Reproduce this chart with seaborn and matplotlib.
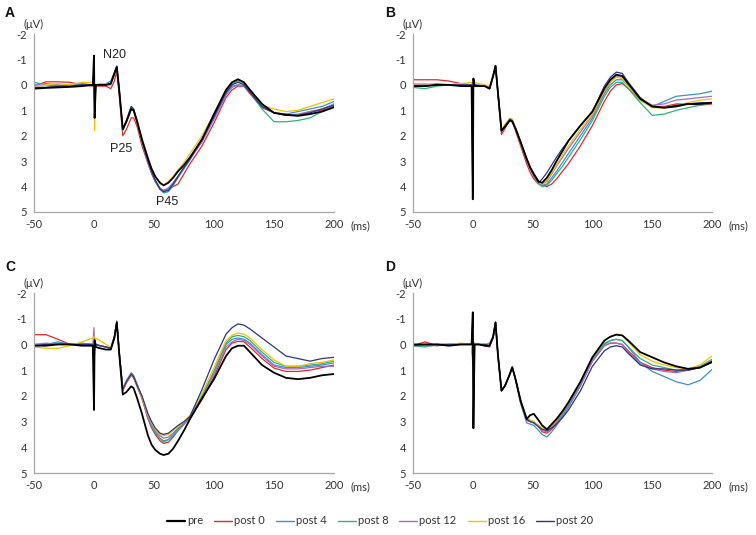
import matplotlib
matplotlib.use("Agg")
import matplotlib.pyplot as plt
from matplotlib.lines import Line2D
import seaborn as sns
import pandas as pd

# ---------------- data (values in microvolts) ----------------
T = [-50, -40, -30, -20, -10, -1, 0, 0.5, 1.5,
     5, 10, 14, 17, 19, 21, 24, 27, 31, 33, 36,
     40, 45, 48, 51, 55, 58, 62, 66, 70, 75, 80, 90, 100, 110, 115, 120, 125, 130,
     140, 150, 160, 170, 180, 190, 200]

series_names = ["pre", "post 0", "post 4", "post 8", "post 12", "post 16", "post 20"]
series_colors = ["#000000", "#e8262a", "#3d8fd1", "#2db37a", "#9a6fc7", "#f2c200", "#2e3580"]
panel_labels = ["A", "B", "C", "D"]

# Panel A
A_pre = [0.15, 0.12, 0.10, 0.08, 0.05, 0.00, -1.15, 1.30, 0.00,
         0.00, 0.00, -0.05, -0.45, -0.70, 0.20, 1.75, 1.45, 0.95, 1.00, 1.45,
         2.15, 2.90, 3.30, 3.60, 3.85, 3.95, 3.85, 3.65, 3.40, 3.15, 2.85, 2.15, 1.15, 0.20, -0.10, -0.22, -0.10, 0.20,
         0.75, 1.10, 1.18, 1.22, 1.15, 1.05, 0.88]
A_post0 = [0.05, -0.12, -0.12, -0.10, 0.00, 0.05, -0.20, 0.40, 0.05,
           0.05, 0.05, 0.15, -0.15, -0.55, 0.40, 2.00, 1.75, 1.30, 1.30, 1.65,
           2.40, 3.10, 3.50, 3.80, 4.10, 4.15, 4.10, 4.00, 3.90, 3.50, 3.10, 2.40, 1.50, 0.50, 0.20, 0.05, 0.05, 0.35,
           0.90, 1.10, 1.15, 1.20, 1.05, 1.00, 0.85]
A_post4 = [0.10, 0.10, 0.05, 0.00, -0.05, 0.00, -0.40, 0.80, 0.00,
           0.00, -0.05, -0.15, -0.50, -0.75, 0.20, 1.75, 1.40, 0.85, 0.95, 1.45,
           2.20, 3.00, 3.40, 3.75, 4.10, 4.25, 4.20, 3.95, 3.65, 3.30, 2.95, 2.20, 1.30, 0.35, 0.05, 0.00, 0.05, 0.30,
           0.85, 1.10, 1.15, 1.05, 0.95, 0.85, 0.65]
A_post8 = [-0.10, 0.00, 0.05, 0.05, 0.00, 0.00, -0.30, 0.60, 0.00,
           0.00, 0.00, -0.05, -0.45, -0.70, 0.25, 1.80, 1.45, 0.95, 1.00, 1.50,
           2.25, 3.05, 3.45, 3.80, 4.10, 4.20, 4.10, 3.85, 3.60, 3.25, 2.90, 2.10, 1.20, 0.25, -0.05, -0.15, -0.05, 0.30,
           0.95, 1.45, 1.45, 1.40, 1.30, 1.05, 0.85]
A_post12 = [0.00, -0.05, 0.00, 0.05, 0.00, 0.00, -0.30, 0.60, 0.00,
            0.00, 0.00, 0.00, -0.40, -0.70, 0.20, 1.75, 1.45, 0.95, 1.00, 1.50,
            2.25, 3.05, 3.45, 3.75, 4.05, 4.15, 4.05, 3.85, 3.60, 3.25, 2.90, 2.25, 1.35, 0.40, 0.10, 0.00, 0.05, 0.30,
            0.85, 1.10, 1.20, 1.15, 1.05, 0.95, 0.75]
A_post16 = [0.05, 0.00, -0.05, 0.00, -0.10, -0.10, -0.40, 1.80, 0.00,
            -0.05, -0.05, -0.05, -0.40, -0.70, 0.20, 1.75, 1.40, 0.90, 0.95, 1.40,
            2.10, 2.90, 3.30, 3.60, 3.90, 3.95, 3.80, 3.60, 3.35, 3.05, 2.70, 2.00, 1.15, 0.20, -0.10, -0.20, -0.10, 0.20,
            0.80, 0.95, 1.05, 1.00, 0.85, 0.70, 0.55]
A_post20 = [0.10, 0.10, 0.05, 0.05, 0.00, 0.00, -0.50, 1.00, 0.00,
            0.00, 0.00, -0.05, -0.45, -0.72, 0.20, 1.75, 1.40, 0.85, 0.95, 1.45,
            2.20, 3.00, 3.40, 3.75, 4.10, 4.20, 4.15, 3.90, 3.60, 3.25, 2.90, 2.15, 1.25, 0.30, 0.00, -0.10, 0.00, 0.30,
            0.85, 1.10, 1.20, 1.20, 1.10, 0.95, 0.80]

# Panel B
B_pre = [0.05, 0.05, 0.00, 0.00, 0.05, 0.05, 4.50, -0.25, 0.05,
         0.05, 0.05, 0.15, -0.35, -0.75, 0.30, 1.80, 1.65, 1.40, 1.45, 1.75,
         2.25, 2.90, 3.25, 3.50, 3.80, 3.85, 3.65, 3.35, 3.00, 2.60, 2.20, 1.60, 1.05, 0.15, -0.20, -0.40, -0.35, -0.05,
         0.55, 0.85, 0.90, 0.85, 0.75, 0.75, 0.70]
B_post0 = [-0.20, -0.20, -0.20, -0.15, -0.05, 0.00, 1.00, -0.20, 0.00,
           0.05, 0.05, 0.10, -0.35, -0.72, 0.35, 1.95, 1.70, 1.35, 1.40, 1.85,
           2.40, 3.10, 3.45, 3.70, 3.90, 3.95, 4.00, 3.90, 3.70, 3.40, 3.10, 2.40, 1.60, 0.65, 0.25, 0.00, -0.05, 0.15,
           0.60, 0.85, 0.85, 0.75, 0.75, 0.80, 0.75]
B_post4 = [0.05, 0.00, 0.00, 0.00, 0.00, 0.00, 3.00, -0.20, 0.00,
           0.00, 0.05, 0.15, -0.35, -0.75, 0.30, 1.80, 1.60, 1.35, 1.40, 1.75,
           2.30, 2.95, 3.30, 3.55, 3.85, 3.95, 3.90, 3.65, 3.40, 3.05, 2.70, 2.00, 1.30, 0.35, 0.00, -0.20, -0.20, 0.05,
           0.60, 0.85, 0.65, 0.45, 0.40, 0.35, 0.25]
B_post8 = [0.10, 0.15, 0.05, 0.00, 0.00, 0.00, 1.50, -0.20, 0.00,
           0.05, 0.05, 0.10, -0.35, -0.75, 0.30, 1.85, 1.60, 1.35, 1.40, 1.75,
           2.30, 2.95, 3.30, 3.60, 3.90, 4.00, 3.95, 3.75, 3.50, 3.20, 2.85, 2.15, 1.40, 0.45, 0.10, -0.10, -0.10, 0.15,
           0.70, 1.20, 1.15, 1.00, 0.90, 0.80, 0.70]
B_post12 = [0.00, 0.00, -0.05, 0.00, 0.00, 0.00, 1.50, -0.20, 0.00,
            0.05, 0.05, 0.10, -0.35, -0.75, 0.30, 1.80, 1.60, 1.35, 1.40, 1.75,
            2.30, 2.95, 3.30, 3.55, 3.85, 3.90, 3.80, 3.50, 3.20, 2.85, 2.50, 1.85, 1.20, 0.30, -0.10, -0.35, -0.30, 0.00,
            0.55, 0.80, 0.75, 0.60, 0.55, 0.50, 0.45]
B_post16 = [-0.05, -0.05, 0.00, 0.00, -0.05, -0.10, 1.00, -0.25, -0.10,
            -0.05, 0.00, 0.05, -0.40, -0.75, 0.25, 1.75, 1.55, 1.30, 1.35, 1.70,
            2.25, 2.90, 3.25, 3.55, 3.85, 3.90, 3.75, 3.45, 3.15, 2.75, 2.40, 1.75, 1.15, 0.25, -0.10, -0.30, -0.25, 0.05,
            0.60, 0.90, 0.90, 0.80, 0.70, 0.60, 0.55]
B_post20 = [0.05, 0.05, 0.00, 0.00, 0.00, 0.00, 4.40, -0.25, 0.00,
            0.05, 0.05, 0.15, -0.35, -0.75, 0.30, 1.80, 1.60, 1.35, 1.40, 1.75,
            2.25, 2.90, 3.25, 3.55, 3.85, 3.70, 3.45, 3.15, 2.85, 2.50, 2.20, 1.60, 1.05, 0.05, -0.30, -0.50, -0.45, -0.10,
            0.50, 0.85, 0.90, 0.80, 0.75, 0.70, 0.70]

# Panel C
C_pre = [0.05, 0.05, 0.00, 0.00, 0.05, 0.05, 2.55, -0.15, 0.10,
         0.15, 0.20, 0.20, -0.25, -0.85, 0.35, 1.95, 1.85, 1.63, 1.70, 2.10,
         2.70, 3.55, 3.90, 4.10, 4.25, 4.30, 4.25, 4.05, 3.75, 3.35, 2.90, 2.10, 1.35, 0.45, 0.15, 0.05, 0.05, 0.30,
         0.80, 1.10, 1.30, 1.35, 1.30, 1.20, 1.15]
C_post0 = [-0.38, -0.38, -0.20, 0.00, 0.00, 0.00, 0.40, -0.20, 0.00,
           0.05, 0.10, 0.15, -0.30, -0.85, 0.35, 1.80, 1.50, 1.20, 1.30, 1.65,
           2.10, 2.90, 3.25, 3.50, 3.75, 3.85, 3.80, 3.60, 3.35, 3.10, 2.85, 2.15, 1.25, 0.20, -0.05, -0.12, -0.10, 0.10,
           0.55, 0.92, 1.05, 1.05, 1.00, 0.90, 0.80]
C_post4 = [0.05, 0.00, -0.10, 0.00, -0.05, 0.00, 0.60, -0.20, 0.00,
           0.05, 0.10, 0.15, -0.30, -0.90, 0.30, 1.70, 1.40, 1.10, 1.20, 1.55,
           2.05, 2.85, 3.20, 3.45, 3.65, 3.75, 3.70, 3.55, 3.35, 3.10, 2.85, 2.05, 1.05, 0.00, -0.20, -0.25, -0.20, -0.05,
           0.40, 0.80, 0.90, 0.90, 0.85, 0.80, 0.72]
C_post8 = [0.00, 0.00, -0.05, 0.00, 0.00, 0.00, 0.80, -0.20, 0.00,
           0.05, 0.10, 0.15, -0.30, -0.90, 0.30, 1.75, 1.45, 1.15, 1.25, 1.60,
           2.05, 2.80, 3.15, 3.40, 3.65, 3.80, 3.70, 3.50, 3.30, 3.05, 2.80, 2.00, 1.05, -0.05, -0.30, -0.35, -0.30, -0.15,
           0.30, 0.70, 0.85, 0.85, 0.80, 0.75, 0.65]
C_post12 = [0.00, -0.05, 0.00, 0.00, 0.00, 0.00, -0.65, 0.40, 0.00,
            0.05, 0.10, 0.15, -0.30, -0.85, 0.30, 1.75, 1.45, 1.15, 1.25, 1.60,
            2.05, 2.80, 3.10, 3.35, 3.55, 3.65, 3.60, 3.45, 3.25, 3.05, 2.80, 2.10, 1.15, 0.10, -0.10, -0.20, -0.15, 0.00,
            0.45, 0.85, 0.95, 0.95, 0.90, 0.85, 0.85]
C_post16 = [0.10, 0.15, 0.15, 0.05, -0.10, -0.25, -0.30, 0.30, -0.25,
            -0.15, 0.00, 0.10, -0.30, -0.90, 0.30, 1.75, 1.45, 1.15, 1.25, 1.60,
            2.05, 2.75, 3.05, 3.30, 3.50, 3.55, 3.50, 3.35, 3.20, 3.00, 2.75, 1.90, 0.90, -0.15, -0.35, -0.45, -0.40, -0.25,
            0.20, 0.60, 0.85, 0.85, 0.75, 0.70, 0.60]
C_post20 = [0.05, 0.00, 0.00, 0.00, 0.00, 0.00, 1.00, -0.20, 0.00,
            0.05, 0.10, 0.15, -0.30, -0.90, 0.30, 1.75, 1.45, 1.15, 1.25, 1.60,
            2.00, 2.70, 3.00, 3.25, 3.45, 3.50, 3.45, 3.30, 3.15, 3.00, 2.80, 1.75, 0.60, -0.40, -0.65, -0.80, -0.75, -0.60,
            -0.25, 0.10, 0.45, 0.55, 0.65, 0.55, 0.50]

# Panel D
D_pre = [0.00, 0.00, 0.00, 0.05, 0.00, 0.00, -1.25, 3.26, 0.00,
         0.00, 0.05, 0.05, -0.30, -0.86, 0.40, 1.80, 1.60, 1.15, 0.88, 1.40,
         2.20, 2.90, 2.75, 2.70, 2.95, 3.15, 3.30, 3.10, 2.90, 2.60, 2.25, 1.45, 0.50, -0.15, -0.30, -0.38, -0.35, -0.15,
         0.30, 0.50, 0.70, 0.85, 0.95, 0.90, 0.68]
D_post0 = [0.05, -0.10, 0.05, 0.00, 0.00, 0.00, 0.50, -0.10, 0.00,
           0.00, 0.05, 0.10, -0.25, -0.85, 0.40, 1.80, 1.60, 1.15, 0.90, 1.40,
           2.20, 2.95, 3.00, 3.05, 3.20, 3.40, 3.45, 3.30, 3.05, 2.75, 2.40, 1.60, 0.65, 0.05, -0.05, -0.05, 0.00, 0.25,
           0.70, 0.90, 1.00, 1.05, 1.00, 0.90, 0.65]
D_post4 = [0.05, 0.05, 0.00, 0.00, 0.00, 0.00, 0.80, -0.10, 0.00,
           0.00, 0.00, 0.05, -0.30, -0.86, 0.40, 1.80, 1.60, 1.15, 0.90, 1.45,
           2.30, 3.05, 3.10, 3.15, 3.35, 3.50, 3.60, 3.40, 3.15, 2.80, 2.45, 1.60, 0.60, 0.00, -0.15, -0.20, -0.15, 0.10,
           0.70, 1.05, 1.25, 1.45, 1.57, 1.40, 0.97]
D_post8 = [0.05, 0.10, 0.00, 0.00, 0.00, 0.00, 0.50, -0.10, 0.00,
           0.00, 0.00, 0.05, -0.30, -0.86, 0.40, 1.80, 1.60, 1.15, 0.90, 1.40,
           2.20, 2.90, 2.95, 3.00, 3.15, 3.30, 3.35, 3.20, 3.00, 2.70, 2.35, 1.55, 0.60, -0.05, -0.15, -0.20, -0.15, 0.10,
           0.55, 0.80, 0.90, 1.00, 0.95, 0.85, 0.58]
D_post12 = [0.00, 0.05, 0.05, 0.00, 0.00, 0.00, 0.50, -0.10, 0.00,
            0.00, 0.00, -0.05, -0.30, -0.86, 0.40, 1.80, 1.60, 1.15, 0.90, 1.40,
            2.25, 2.95, 3.00, 3.05, 3.20, 3.35, 3.40, 3.25, 3.05, 2.75, 2.40, 1.60, 0.65, 0.05, -0.05, -0.05, 0.00, 0.30,
            0.75, 0.95, 1.05, 1.10, 1.00, 0.90, 0.62]
D_post16 = [0.05, 0.00, 0.00, 0.00, -0.05, 0.00, 0.50, -0.10, 0.00,
            0.00, 0.00, 0.05, -0.30, -0.86, 0.40, 1.80, 1.60, 1.15, 0.90, 1.40,
            2.15, 2.85, 2.95, 3.00, 3.15, 3.25, 3.30, 3.15, 2.95, 2.60, 2.25, 1.45, 0.50, -0.15, -0.30, -0.40, -0.35, -0.10,
            0.40, 0.65, 0.80, 0.90, 0.95, 0.80, 0.45]
D_post20 = [0.05, 0.00, 0.00, 0.00, 0.00, 0.00, -1.20, 3.10, 0.00,
            0.00, 0.00, 0.05, -0.30, -0.86, 0.40, 1.80, 1.60, 1.15, 0.90, 1.40,
            2.20, 2.90, 3.00, 3.05, 3.20, 3.30, 3.35, 3.25, 3.10, 2.85, 2.55, 1.80, 0.85, 0.25, 0.10, 0.05, 0.10, 0.35,
            0.80, 0.95, 0.95, 1.00, 1.00, 0.90, 0.70]

panels = [
    [A_pre, A_post0, A_post4, A_post8, A_post12, A_post16, A_post20],
    [B_pre, B_post0, B_post4, B_post8, B_post12, B_post16, B_post20],
    [C_pre, C_post0, C_post4, C_post8, C_post12, C_post16, C_post20],
    [D_pre, D_post0, D_post4, D_post8, D_post12, D_post16, D_post20],
]

x_ticks = [-50, 0, 50, 100, 150, 200]
y_ticks = [-2, -1, 0, 1, 2, 3, 4, 5]
peak_labels = ["N20", "P25", "P45"]
peak_pos = [(17.5, -1.18), (22.5, 2.52), (60.8, 4.6)]

# ---------------- figure ----------------
sns.set_style("white")
plt.rcParams["font.family"] = ["Lato", "DejaVu Sans"]
plt.rcParams["axes.unicode_minus"] = False

W, H = 756, 535
fig = plt.figure(figsize=(W / 100, H / 100), dpi=100)

# axes rectangles in pixels: (left, top, right, bottom)
rects = [(34, 34, 334, 212), (413, 34, 712, 212), (34, 293, 334, 473), (413, 293, 712, 473)]
label_pos = [(10, 13), (390, 13), (10, 267), (390, 267)]
spine_col = "#a6a6a6"
txt_col = "#333333"

for k, (l, t, r, b) in enumerate(rects):
    ax = fig.add_axes([l / W, 1 - b / H, (r - l) / W, (b - t) / H])
    rows = []
    for name, vals in zip(series_names, panels[k]):
        for tt, vv in zip(T, vals):
            rows.append((name, tt, vv))
    df = pd.DataFrame(rows, columns=["series", "t", "v"])
    post = df[df["series"] != "pre"]
    sns.lineplot(data=post, x="t", y="v", hue="series", hue_order=series_names[1:],
                 palette=series_colors[1:], estimator=None, sort=False, legend=False,
                 linewidth=0.9, ax=ax)
    sns.lineplot(data=df[df["series"] == "pre"], x="t", y="v", color="black",
                 estimator=None, sort=False, legend=False, linewidth=1.3, ax=ax)

    ax.set_xlim(-50, 200)
    ax.set_ylim(5, -2)
    ax.set_xticks(x_ticks)
    ax.set_yticks(y_ticks)
    ax.set_xlabel("")
    ax.set_ylabel("")
    for s in ["top", "right"]:
        ax.spines[s].set_visible(False)
    for s in ["left", "bottom"]:
        ax.spines[s].set_color(spine_col)
        ax.spines[s].set_linewidth(0.9)
    ax.tick_params(axis="both", direction="out", length=3, width=0.8, color=spine_col,
                   labelsize=8, labelcolor=txt_col, pad=2)
    ax.annotate("(\u03bcV)", xy=(0, 1), xycoords="axes fraction", xytext=(0, 7),
                textcoords="offset points", ha="center", va="center", fontsize=8, color=txt_col)
    ax.annotate("(ms)", xy=(1, 0), xycoords="axes fraction", xytext=(19, -10),
                textcoords="offset points", ha="center", va="center", fontsize=8, color=txt_col)
    lx, ly = label_pos[k]
    fig.text(lx / W, 1 - ly / H, panel_labels[k], ha="center", va="center", fontsize=10,
             fontweight="bold", family=["Liberation Sans", "DejaVu Sans"], color="#111111")
    if k == 0:
        for lab, (px, py) in zip(peak_labels, peak_pos):
            ax.text(px, py, lab, ha="center", va="center", fontsize=9,
                    family=["Liberation Sans", "DejaVu Sans"], color="#222222")

handles = [Line2D([0], [0], color=c, lw=(1.6 if n == "pre" else 1.0))
           for n, c in zip(series_names, series_colors)]
fig.legend(handles, series_names, loc="center", bbox_to_anchor=(380 / W, 1 - 521 / H), ncol=7,
           frameon=False, fontsize=8, handlelength=1.6, handletextpad=0.2, columnspacing=1.0,
           labelcolor=txt_col)

fig.savefig("out.png", dpi=100)
